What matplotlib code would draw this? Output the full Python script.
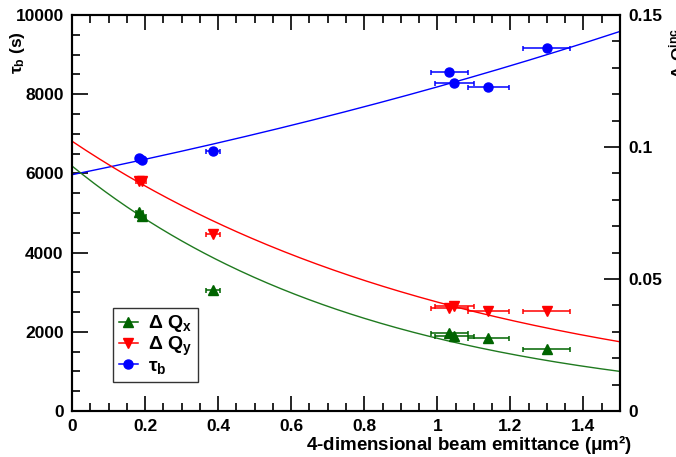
import numpy as np
import matplotlib
matplotlib.use("Agg")
import matplotlib.pyplot as plt
from matplotlib.lines import Line2D
from matplotlib.ticker import MultipleLocator, FormatStrFormatter

# measured points (x error = emittance uncertainty)
emittance = [0.184, 0.192, 0.386, 1.033, 1.046, 1.140, 1.299]
emit_err = [0.010, 0.010, 0.020, 0.050, 0.053, 0.056, 0.065]
tau_b = [6380, 6330, 6575, 8560, 8280, 8180, 9165]
dqx = [0.0755, 0.0738, 0.0457, 0.0297, 0.0285, 0.0277, 0.0235]
dqy = [0.0873, 0.0870, 0.0670, 0.0389, 0.0399, 0.0380, 0.0380]

# exponential fits drawn on the chart: (value at 0, exponent slope)
tau_fit = (5967, 0.316)
dqx_fit = (0.0928, -1.215)
dqy_fit = (0.1022, -0.907)

BLUE = "#0000ff"
RED = "#ff0000"
GREEN = "#006400"
GREEN_LINE = "#1f7a1f"

plt.rcParams["font.family"] = ["Liberation Sans", "DejaVu Sans"]
plt.rcParams["font.weight"] = "bold"
plt.rcParams["mathtext.fontset"] = "custom"
plt.rcParams["mathtext.rm"] = "Liberation Sans"
plt.rcParams["mathtext.it"] = "Liberation Sans"
plt.rcParams["mathtext.bf"] = "Liberation Sans:bold"

FS = 12.5

fig = plt.figure(figsize=(6.76, 4.57), dpi=100)
ax = fig.add_axes([72 / 676, 1 - 411 / 457, 548 / 676, 396 / 457])
ax2 = ax.twinx()

xs = np.linspace(0, 1.5, 200)
ax.plot(xs, tau_fit[0] * np.exp(tau_fit[1] * xs), color=BLUE, lw=1)
ax2.plot(xs, dqy_fit[0] * np.exp(dqy_fit[1] * xs), color=RED, lw=1)
ax2.plot(xs, dqx_fit[0] * np.exp(dqx_fit[1] * xs), color=GREEN_LINE, lw=1)

ebkw = dict(ls="none", elinewidth=1.1, capsize=1.8, capthick=1.1, ms=6.5)
ax.errorbar(emittance, tau_b, xerr=emit_err, fmt="o", color=BLUE, **ebkw)
ax2.errorbar(emittance, dqy, xerr=emit_err, fmt="v", color=RED, **ebkw)
ax2.errorbar(emittance, dqx, xerr=emit_err, fmt="^", color=GREEN, **ebkw)

ax.set_xlim(0, 1.5)
ax.set_ylim(0, 10000)
ax2.set_ylim(0, 0.15)

ax.xaxis.set_major_locator(MultipleLocator(0.2))
ax.xaxis.set_minor_locator(MultipleLocator(0.05))
ax.xaxis.set_major_formatter(FormatStrFormatter("%g"))
ax.yaxis.set_major_locator(MultipleLocator(2000))
ax.yaxis.set_minor_locator(MultipleLocator(500))
ax2.yaxis.set_major_locator(MultipleLocator(0.05))
ax2.yaxis.set_minor_locator(MultipleLocator(0.01))
ax2.yaxis.set_major_formatter(FormatStrFormatter("%g"))

ax.tick_params(axis="x", which="both", direction="in", top=True, width=1.2,
               labelsize=FS, pad=6)
ax.tick_params(axis="x", which="major", length=11)
ax.tick_params(axis="x", which="minor", length=5.5)
ax.tick_params(axis="y", which="both", direction="in", right=False, width=1.2,
               labelsize=FS, pad=6)
ax.tick_params(axis="y", which="major", length=11.5)
ax.tick_params(axis="y", which="minor", length=6)
ax2.tick_params(axis="y", which="both", direction="in", width=1.2,
                labelsize=FS, pad=6)
ax2.tick_params(axis="y", which="major", length=11.5)
ax2.tick_params(axis="y", which="minor", length=6)

for a in (ax, ax2):
    for s in a.spines.values():
        s.set_linewidth(1.5)

ax.set_xlabel(r"4-dimensional beam emittance ($\mu$m²)", fontsize=13.5,
              fontweight="bold", ha="right")
ax.xaxis.set_label_coords(1.022, -0.055)
fig.text(8 / 676, 1 - 31 / 457, r"$\tau_\mathbf{b}$ (s)", rotation=90,
         ha="left", va="top", fontsize=FS)
# right-hand label sits partly outside the canvas, as in the original
fig.text(667 / 676, 1 - 28 / 457, r"-$\Delta$ $\mathbf{Q^{inc}}$", rotation=90,
         ha="left", va="top", fontsize=FS)

handles = [
    Line2D([], [], color=GREEN, marker="^", ms=6.5, lw=1.1),
    Line2D([], [], color=RED, marker="v", ms=6.5, lw=1.1),
    Line2D([], [], color=BLUE, marker="o", ms=6.5, lw=1.1),
]
labels = [r"$\Delta$ $\mathbf{Q_x}$", r"$\Delta$ $\mathbf{Q_y}$", r"$\tau_\mathbf{b}$"]
leg = ax2.legend(handles, labels, loc="lower left",
                 bbox_to_anchor=(0.0743, 0.0732), borderaxespad=0,
                 fontsize=14, frameon=True, fancybox=False, handlelength=1.0,
                 handletextpad=0.5, labelspacing=0.0, borderpad=0.3)
leg.get_frame().set_edgecolor("black")
leg.get_frame().set_linewidth(1.0)

fig.savefig("out.png", dpi=100)
